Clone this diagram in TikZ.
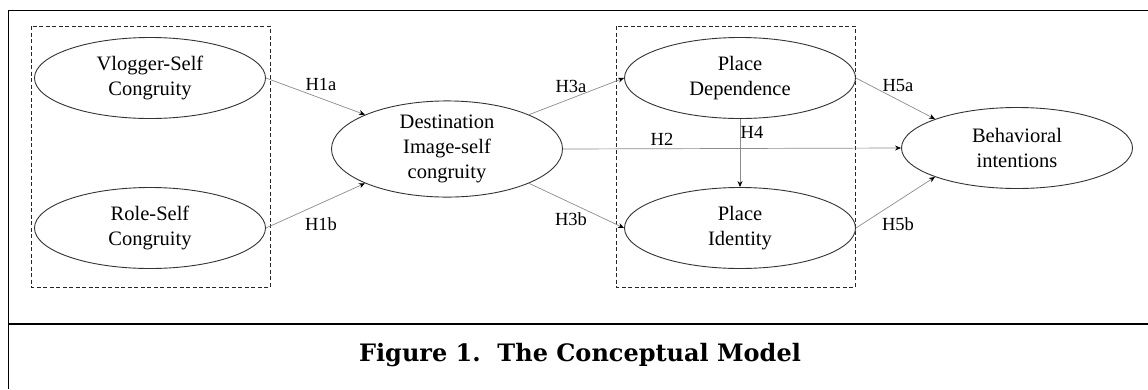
\documentclass[tikz,border=0pt]{standalone}
\usepackage{fontspec}
\setmainfont{Liberation Serif}
\newfontfamily\capfont{DejaVu Serif}
\usepackage{tikz}
\usetikzlibrary{shapes.geometric}
\usetikzlibrary{arrows.meta}

\begin{document}
\begin{tikzpicture}[x=1pt, y=-1pt,
  construct/.style={ellipse, draw=black!80, line width=0.9pt, minimum width=231pt, minimum height=81pt, inner sep=0pt, align=center, font=\fontsize{20.5}{25}\selectfont},
  path/.style={draw=black!45, line width=0.7pt, arrows={-Stealth[width=5pt, length=6pt, black]}},
  hyp/.style={font=\fontsize{18.5}{20}\selectfont, inner sep=0pt},
  group/.style={draw=black!85, line width=0.7pt, dash pattern=on 4pt off 2.5pt}]
\useasboundingbox (0,0) rectangle (1148,389);
% frame
\draw[line width=0.6pt] (8,10) -- (1136,10);
\draw[line width=1.6pt] (1136,10.5) -- (1148,10.5);
\draw[line width=1.6pt] (8,10.5) -- (23,10.5);
\draw[line width=1.6pt] (8.5,10) -- (8.5,389);
\draw[line width=1.6pt] (8,324) -- (1148,324);
% dashed groups
\draw[group] (31,26) rectangle (270,287);
\draw[group] (616,26) rectangle (855,287);
% constructs
\node[construct] (vlog) at (150,78) {Vlogger-Self\\Congruity};
\node[construct] (role) at (150,228) {Role-Self\\Congruity};
\node[construct] (dest) at (447,149) {Destination\\Image-self\\congruity};
\node[construct] (pdep) at (740,78) {Place\\Dependence};
\node[construct] (pid) at (740,228) {Place\\Identity};
\node[construct] (beh) at (1017,148) {Behavioral\\intentions};
% hypotheses
\draw[path] (vlog.east) -- (dest.north west);
\draw[path] (role.east) -- (dest.south west);
\draw[path] (dest.north east) -- (pdep.west);
\draw[path] (dest.south east) -- (pid.west);
\draw[path] (dest.east) -- (beh.west);
\draw[path] (pdep.south) -- (pid.north);
\draw[path] (pdep.east) -- (beh.north west);
\draw[path] (pid.east) -- (beh.south west);
\node[hyp] (h1a) at (321,84) {H1a};
\node[hyp] (h1b) at (321,224) {H1b};
\node[hyp] (h3a) at (571,86) {H3a};
\node[hyp] (h3b) at (571,219) {H3b};
\node[hyp] (h2) at (662,139) {H2};
\node[hyp] (h4) at (752,132) {H4};
\node[hyp] (h5a) at (898,86) {H5a};
\node[hyp] (h5b) at (898,224) {H5b};
% caption
\node[font=\capfont\bfseries\fontsize{24}{28}\selectfont] (caption) at (580,355) {Figure 1.\ \ The Conceptual Model};
\end{tikzpicture}
\end{document}
